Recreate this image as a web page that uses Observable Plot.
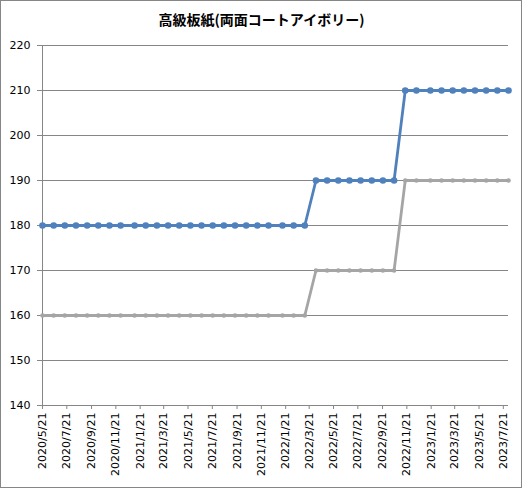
<!DOCTYPE html>
<html>
<head>
<meta charset="utf-8">
<script src="https://cdn.jsdelivr.net/npm/d3@7"></script>
<script src="https://cdn.jsdelivr.net/npm/@observablehq/plot@0.6"></script>
<style>
  html, body { margin: 0; padding: 0; background: #fff; }
  #chart svg { display: block; outline: 1px solid #868686; outline-offset: -1px; }
</style>
</head>
<body>
<div id="chart"></div>
<script>
const title = "高級板紙(両面コートアイボリー)";

const dates = [
  "2020-05-21","2020-06-18","2020-07-16","2020-08-13","2020-09-10","2020-10-08","2020-11-05","2020-12-03",
  "2021-01-07","2021-02-04","2021-03-04","2021-04-01","2021-04-29","2021-05-27","2021-06-24","2021-07-22",
  "2021-08-19","2021-09-16","2021-10-14","2021-11-11","2021-12-09",
  "2022-01-13","2022-02-10","2022-03-10","2022-04-07","2022-05-05","2022-06-02","2022-06-30","2022-07-28",
  "2022-08-25","2022-09-22","2022-10-20","2022-11-17","2022-12-15",
  "2023-01-19","2023-02-16","2023-03-16","2023-04-13","2023-05-11","2023-06-08","2023-07-06","2023-08-03"
];

const seriesBlue = [
  180,180,180,180,180,180,180,180,
  180,180,180,180,180,180,180,180,
  180,180,180,180,180,
  180,180,180,190,190,190,190,190,
  190,190,190,210,210,
  210,210,210,210,210,210,210,210
];

const seriesGray = [
  160,160,160,160,160,160,160,160,
  160,160,160,160,160,160,160,160,
  160,160,160,160,160,
  160,160,160,170,170,170,170,170,
  170,170,170,190,190,
  190,190,190,190,190,190,190,190
];

const xTickLabels = [
  "2020-05-21","2020-07-21","2020-09-21","2020-11-21",
  "2021-01-21","2021-03-21","2021-05-21","2021-07-21","2021-09-21","2021-11-21",
  "2022-01-21","2022-03-21","2022-05-21","2022-07-21","2022-09-21","2022-11-21",
  "2023-01-21","2023-03-21","2023-05-21","2023-07-21"
];

const yTicks = [140,150,160,170,180,190,200,210,220];

const parse = d3.utcParse("%Y-%m-%d");
const blueData = dates.map((d, i) => ({date: parse(d), value: seriesBlue[i]}));
const grayData = dates.map((d, i) => ({date: parse(d), value: seriesGray[i]}));
const xTicks = xTickLabels.map(parse);
const fmt = d => `${d.getUTCFullYear()}/${d.getUTCMonth() + 1}/${d.getUTCDate()}`;

const BLUE = "#4f81bd";
const GRAY = "#a5a5a5";
const AXIS = "#868686";

const chart = Plot.plot({
  width: 522,
  height: 488,
  marginTop: 45,
  marginLeft: 42,
  marginRight: 14,
  marginBottom: 83,
  style: {fontFamily: "DejaVu Sans", fontSize: "11px", background: "#fff", color: "#000"},
  x: {type: "utc", domain: [blueData[0].date, blueData[blueData.length - 1].date]},
  y: {domain: [140, 220]},
  marks: [
    Plot.ruleY(yTicks, {stroke: AXIS, strokeWidth: 1}),
    Plot.ruleX([blueData[0].date], {y1: 140, y2: 220, stroke: AXIS}),
    Plot.axisY({ticks: yTicks, tickSize: 5, tickPadding: 7, stroke: AXIS, fill: "#000", label: null}),
    Plot.axisX({ticks: xTicks, tickFormat: fmt, tickRotate: -90, tickSize: 4, tickPadding: 3, stroke: AXIS, fill: "#000", label: null}),
    Plot.line(grayData, {x: "date", y: "value", stroke: GRAY, strokeWidth: 2.8}),
    Plot.dot(grayData, {x: "date", y: "value", fill: GRAY, r: 2.3}),
    Plot.line(blueData, {x: "date", y: "value", stroke: BLUE, strokeWidth: 2.8}),
    Plot.dot(blueData, {x: "date", y: "value", fill: BLUE, r: 3.3}),
    Plot.text([title], {frameAnchor: "top", lineAnchor: "middle", dy: -25, dx: -14,
      fontSize: 14, fontWeight: "bold", fontFamily: "Noto Sans CJK JP", fill: "#000"})
  ]
});
document.getElementById("chart").appendChild(chart);
</script>
</body>
</html>
